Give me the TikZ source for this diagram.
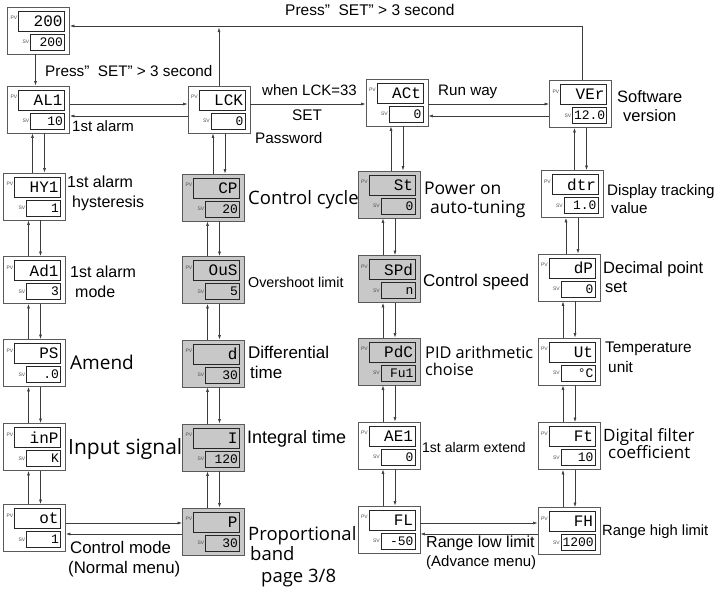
\documentclass[tikz,border=0pt]{standalone}
\usepackage{fontspec}
\usetikzlibrary{arrows.meta}

\newfontfamily\arialf{Liberation Sans}
\newfontfamily\opensf{Open Sans}
\newfontfamily\monof{Liberation Mono}

\definecolor{panelgray}{RGB}{200,200,200}
\definecolor{edgegray}{RGB}{90,90,90}
\definecolor{linegray}{RGB}{60,60,60}

\tikzset{
  panel/.style={draw=edgegray, line width=0.9pt, minimum width=62pt, minimum height=47pt, inner sep=0pt},
  pvbox/.style={draw=black!85, line width=0.9pt, minimum width=46pt, minimum height=20pt,
    text width=42pt, align=right, inner sep=2pt, font=\monof\fontsize{16}{16}\selectfont},
  svbox/.style={draw=black!85, line width=0.9pt, minimum width=34pt, minimum height=16pt,
    text width=31pt, align=right, inner sep=1.5pt, font=\monof\fontsize{13}{13}\selectfont},
  tag/.style={inner sep=0.6pt, font=\arialf\fontsize{5}{5}\selectfont, text=black!70},
  arr/.style={draw=linegray, line width=0.6pt, -{Latex[length=4.5pt,width=3pt]}},
  la/.style={inner sep=0pt, anchor=west, text height=0.72*#1pt, text depth=0pt,
    font=\arialf\fontsize{#1}{#1}\selectfont},
  lo/.style={inner sep=0pt, anchor=west, text height=0.72*#1pt, text depth=0pt,
    font=\opensf\fontsize{#1}{#1}\selectfont},
}

% one controller screen: [fill]{name}{position}{PV text}{SV text}
\newcommand\dispanel[5][white]{%
  \node[panel, fill=#1] (#2) at #3 {};
  \node[pvbox, fill=#1, anchor=north east] (#2-pv) at ([shift={(-5pt,-4pt)}]#2.north east) {#4};
  \node[svbox, fill=#1, anchor=north east] (#2-sv) at ([shift={(-5pt,-27pt)}]#2.north east) {#5};
  \node[tag, anchor=north east] (#2-pvt) at ([yshift=-5pt]#2-pv.north west) {PV};
  \node[tag, anchor=east] (#2-svt) at (#2-sv.west) {SV};
}

% pair of arrows between two screens of one column
\newcommand\updown[2]{%
  \draw[arr] ([xshift=-6pt]#1.south |- #2.north) -- ([xshift=-6pt]#1.south);
  \draw[arr] ([xshift=6pt]#1.south) -- ([xshift=6pt]#1.south |- #2.north);
}

\begin{document}
\begin{tikzpicture}[x=1pt, y=-1pt]
  \useasboundingbox (0,0) rectangle (721,590);

  % Home screen
  \dispanel{p200}{(38.5,30.5)}{200}{200}

  % First row
  \dispanel{al1}{(38.5,109.5)}{AL1}{10}
  \dispanel{lck}{(219,109.5)}{LCK}{0}
  \dispanel{act}{(397,102.5)}{ACt}{0}
  \dispanel{ver}{(580.5,104)}{VEr}{12.0}

  % Normal menu, left column
  \dispanel{hy1}{(34.5,196.5)}{HY1}{1}
  \dispanel{ad1}{(34.5,280)}{Ad1}{3}
  \dispanel{ps}{(34.5,363)}{PS}{.0}
  \dispanel{inp}{(34.5,447)}{inP}{K}
  \dispanel{ot}{(34.5,528)}{ot}{1}

  % Password column (shaded)
  \dispanel[panelgray]{cp}{(213.5,197.5)}{CP}{20}
  \dispanel[panelgray]{ous}{(213.5,280)}{OuS}{5}
  \dispanel[panelgray]{dd}{(213.5,363.5)}{d}{30}
  \dispanel[panelgray]{ii}{(213.5,447.5)}{I}{120}
  \dispanel[panelgray]{pp}{(213.5,531.5)}{P}{30}

  % Advance menu
  \dispanel[panelgray]{st}{(389,194.5)}{St}{0}
  \dispanel[panelgray]{spd}{(389,279)}{SPd}{n}
  \dispanel[panelgray]{pdc}{(389,361.5)}{PdC}{Fu1}
  \dispanel{ae1}{(389,445.5)}{AE1}{0}
  \dispanel{fl}{(389,529.5)}{FL}{-50}

  \dispanel{dtr}{(572,194)}{dtr}{1.0}
  \dispanel{dp}{(569,277.5)}{dP}{0}
  \dispanel{ut}{(569,361.5)}{Ut}{°C}
  \dispanel{ft}{(569,446)}{Ft}{10}
  \dispanel{fh}{(569,531)}{FH}{1200}

  % Helper heights
  \coordinate (top) at (0,26);
  \coordinate (hi) at (0,104);
  \coordinate (lo) at (0,116);
  \coordinate (bhi) at (0,523);
  \coordinate (blo) at (0,534);

  % Return to home
  \draw[arr] ([xshift=-3pt]p200.south) -- ([xshift=-3pt]p200.south |- al1.north);
  \draw[arr] ([xshift=2pt]ver.north) |- (p200.east |- top);
  \draw[arr, shorten >=1.5pt] (lck.north) -- (lck.north |- top);

  % First row
  \draw[arr] (al1.east |- hi) -- (lck.west |- hi);
  \draw[arr] (lck.west |- lo) -- (al1.east |- lo);
  \draw[arr] (lck.east |- hi) -- (act.west |- hi);
  \draw[arr] (act.east |- hi) -- (ver.west |- hi);
  \draw[arr] (ver.west |- lo) -- (act.east |- lo);

  % Columns
  \updown{al1}{hy1}
  \updown{hy1}{ad1}
  \updown{ad1}{ps}
  \updown{ps}{inp}
  \updown{inp}{ot}
  \updown{lck}{cp}
  \updown{cp}{ous}
  \updown{ous}{dd}
  \updown{dd}{ii}
  \updown{ii}{pp}
  \updown{act}{st}
  \updown{st}{spd}
  \updown{spd}{pdc}
  \updown{pdc}{ae1}
  \updown{ae1}{fl}
  \updown{ver}{dtr}
  \updown{dtr}{dp}
  \updown{dp}{ut}
  \updown{ut}{ft}
  \updown{ft}{fh}

  % Bottom row
  \draw[arr] (ot.east |- bhi) -- (pp.west |- bhi);
  \draw[arr] (pp.west |- blo) -- (ot.east |- blo);
  \draw[arr] (fl.east |- bhi) -- (fh.west |- bhi);
  \draw[arr] (fh.west |- blo) -- (fl.east |- blo);

  % Labels
  \node[la=15.5] (t-press1) at (285,10) {Press”~ SET” > 3 second};
  \node[la=15.3] (t-press2) at (45,71) {Press”~ SET” > 3 second};
  \node[la=15] (t-al1) at (72,126) {1st alarm};
  \node[la=15] (t-when) at (262,90) {when LCK=33};
  \node[la=15.4] (t-set) at (292,115) {SET};
  \node[la=15.3] (t-pass) at (255,138) {Password};
  \node[la=15.2] (t-run) at (438,90) {Run way};
  \node[la=16.5] (t-vera) at (617,97) {Software};
  \node[la=16.5] (t-verb) at (623,116) {version};

  \node[la=16] (t-hy1a) at (67,182) {1st alarm};
  \node[la=16] (t-hy1b) at (72,202) {hysteresis};
  \node[la=16] (t-ad1a) at (70,272) {1st alarm};
  \node[la=16] (t-ad1b) at (75,292) {mode};
  \node[lo=19] (t-ps) at (70,363) {Amend};
  \node[lo=21] (t-inp) at (68,447) {Input signal};
  \node[la=16.8] (t-ota) at (70,547) {Control mode};
  \node[la=16.8] (t-otb) at (68,567) {(Normal menu)};

  \node[lo=18.5] (t-cp) at (248,198) {Control cycle};
  \node[la=14.3] (t-ous) at (248,282) {Overshoot limit};
  \node[la=17] (t-dda) at (248,352) {Differential};
  \node[la=17] (t-ddb) at (250,372) {time};
  \node[la=18] (t-ii) at (247,437) {Integral time};
  \node[lo=18.5] (t-ppa) at (248,534) {Proportional};
  \node[lo=18.5] (t-ppb) at (250,554) {band};
  \node[lo=18.5] (t-page) at (261,576) {page 3/8};

  \node[lo=17.5] (t-sta) at (424,188) {Power on};
  \node[lo=17.5] (t-stb) at (430,207) {auto-tuning};
  \node[la=17] (t-spd) at (423,280) {Control speed};
  \node[lo=16.3] (t-pdca) at (425,353) {PID arithmetic};
  \node[lo=16.3] (t-pdcb) at (425,370) {choise};
  \node[la=14] (t-ae1) at (422,447) {1st alarm extend};
  \node[la=16] (t-fla) at (426,542) {Range low limit};
  \node[la=15] (t-flb) at (426,561) {(Advance menu)};

  \node[la=15.2] (t-dtra) at (607,190) {Display tracking};
  \node[la=15.2] (t-dtrb) at (611,208) {value};
  \node[la=16.5] (t-dpa) at (603,268) {Decimal point};
  \node[la=16.5] (t-dpb) at (605,287) {set};
  \node[la=15.4] (t-uta) at (605,347) {Temperature};
  \node[la=15.4] (t-utb) at (608,367) {unit};
  \node[lo=17] (t-fta) at (603,435) {Digital filter};
  \node[lo=17] (t-ftb) at (608,452) {coefficient};
  \node[la=14.8] (t-fh) at (602,530) {Range high limit};
\end{tikzpicture}
\end{document}
